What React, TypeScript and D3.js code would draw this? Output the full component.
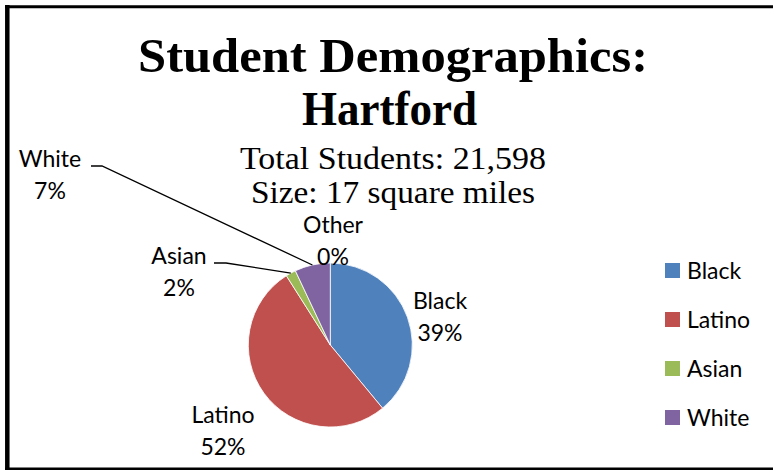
import React from "react";
import * as d3 from "d3";

const categories = ["Black", "Latino", "Asian", "White", "Other"];
const values = [39, 52, 2, 7, 0];
const colors = ["#4F81BD", "#C0504D", "#9BBB59", "#8064A2", "#4BACC6"];
const titleLines = ["Student Demographics:", "Hartford"];
const subtitleLines = ["Total Students: 21,598", "Size: 17 square miles"];

// label layout (center x, first-line baseline) per category
const labelPos: Record<string, { x: number; y: number; leader?: [number, number] }> = {
  Black: { x: 440, y: 309 },
  Latino: { x: 223, y: 423 },
  Asian: { x: 179, y: 264, leader: [214, 226] },
  White: { x: 50, y: 167, leader: [91, 102] },
  Other: { x: 333, y: 233 },
};

const W = 773;
const H = 471;

export default function App() {
  const cx = 330.3;
  const cy = 345;
  const r = 82;
  const total = d3.sum(values);
  const pie = d3
    .pie<number>()
    .sort(null)
    .value((d) => d)
    .startAngle(0)
    .endAngle(2 * Math.PI);
  const arcs = pie(values);
  const arc = d3.arc<d3.PieArcDatum<number>>().innerRadius(0).outerRadius(r);
  const edge = d3.arc<d3.PieArcDatum<number>>().innerRadius(r).outerRadius(r);
  const pct = d3.format(".0%");
  const labelFont = "Lato, 'Liberation Sans', sans-serif";
  const lineGap = 31.5;

  const legendItems = categories
    .map((c, i) => ({ c, i }))
    .filter((d) => values[d.i] > 0);
  const legendY = d3
    .scalePoint<string>()
    .domain(legendItems.map((d) => d.c))
    .range([263, 410]);

  return (
    <div style={{ position: "fixed", left: 0, top: 0 }}>
      <svg width={W} height={H} style={{ display: "block", background: "#fff" }}>
        <rect x={0} y={0} width={W} height={H} fill="#fff" />
        {/* frame */}
        <line x1={5} x2={W} y1={6.7} y2={6.7} stroke="#000" strokeWidth={3} />
        <line x1={7.3} x2={7.3} y1={5} y2={470} stroke="#000" strokeWidth={4.5} />
        <line x1={5} x2={W} y1={468.8} y2={468.8} stroke="#000" strokeWidth={2.5} />

        {/* title */}
        <g fontFamily="'Liberation Serif', serif" fontWeight="bold" fill="#000" textAnchor="middle">
          <text x={393} y={72} fontSize={49} textLength={510} lengthAdjust="spacingAndGlyphs">
            {titleLines[0]}
          </text>
          <text x={389.5} y={125} fontSize={49} textLength={175} lengthAdjust="spacingAndGlyphs">
            {titleLines[1]}
          </text>
        </g>
        <g fontFamily="'Liberation Serif', serif" fill="#000" textAnchor="middle">
          <text x={393} y={169} fontSize={32} textLength={306} lengthAdjust="spacingAndGlyphs">
            {subtitleLines[0]}
          </text>
          <text x={393} y={203} fontSize={32} textLength={284} lengthAdjust="spacingAndGlyphs">
            {subtitleLines[1]}
          </text>
        </g>

        {/* pie */}
        <g transform={`translate(${cx},${cy})`}>
          {arcs.map((a, i) =>
            a.value > 0 ? (
              <path key={categories[i]} d={arc(a) || ""} fill={colors[i]} stroke="#fff" strokeWidth={0.8} />
            ) : null
          )}
        </g>

        {/* leader lines */}
        {arcs.map((a, i) => {
          const lp = labelPos[categories[i]];
          if (!lp.leader) return null;
          const [ex, ey] = edge.centroid(a);
          const pts: [number, number][] = [
            [lp.leader[0], lp.y - 1],
            [lp.leader[1], lp.y - 1],
            [cx + ex, cy + ey],
          ];
          return (
            <path
              key={"l" + categories[i]}
              d={d3.line()(pts) || ""}
              fill="none"
              stroke="#000"
              strokeWidth={1.3}
            />
          );
        })}

        {/* data labels */}
        <g fontFamily={labelFont} fontSize={23} fill="#000" textAnchor="middle">
          {arcs.map((a, i) => {
            const lp = labelPos[categories[i]];
            return (
              <g key={"t" + categories[i]}>
                <text x={lp.x} y={lp.y}>
                  {categories[i]}
                </text>
                <text x={lp.x} y={lp.y + lineGap}>
                  {pct(values[i] / total)}
                </text>
              </g>
            );
          })}
        </g>

        {/* legend */}
        <g fontFamily={labelFont} fontSize={23} fill="#000">
          {legendItems.map((d) => (
            <g key={"lg" + d.c} transform={`translate(665,${legendY(d.c)})`}>
              <rect x={0} y={0} width={15} height={15} fill={colors[d.i]} />
              <text x={22} y={16}>
                {d.c}
              </text>
            </g>
          ))}
        </g>
      </svg>
    </div>
  );
}
